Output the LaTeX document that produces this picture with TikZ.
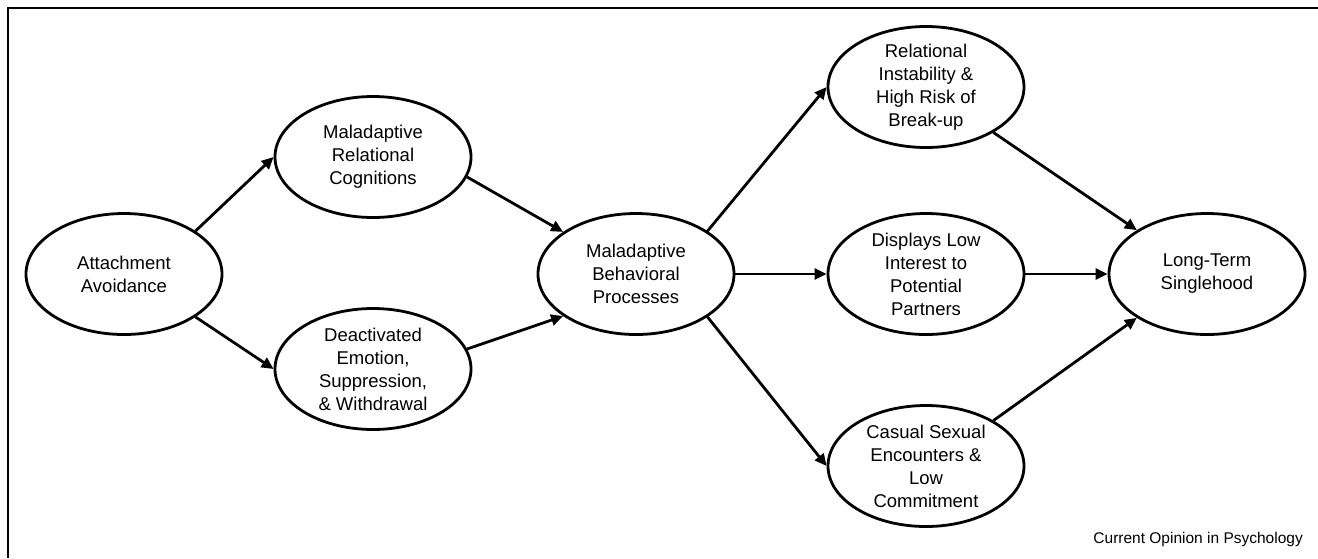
\documentclass[tikz,border=0pt]{standalone}
\usepackage{fontspec}
\setmainfont{Liberation Sans}
\usetikzlibrary{shapes.geometric,arrows.meta}
\begin{document}
\begin{tikzpicture}[x=1pt,y=-1pt,
  ell/.style={ellipse,draw=black,line width=2.8pt,minimum width=196pt,minimum height=121pt,inner sep=0pt},
  txt/.style={align=center,font=\fontsize{18.5}{23}\selectfont,inner sep=0pt},
  arr/.style={line width=2.8pt,-{Triangle[length=12pt,width=11pt]}},
  frame/.style={line width=2pt}]
\useasboundingbox (0,0) rectangle (1318,558);
\coordinate (f1) at (8,558);
\coordinate (f2) at (8,8);
\coordinate (f3) at (1318,8);
\draw[frame] (f1) -- (f2) -- (f3);

\node[ell] (A) at (124,274) {};
\node[txt] (At) at (A) {Attachment\\Avoidance};
\node[ell] (C) at (373,157) {};
\node[txt] (Ct) at (C) {Maladaptive\\Relational\\Cognitions};
\node[ell] (D) at (373,369) {};
\node[txt] (Dt) at (D) {Deactivated\\Emotion,\\Suppression,\\\& Withdrawal};
\node[ell] (B) at (636,274) {};
\node[txt] (Bt) at (B) {Maladaptive\\Behavioral\\Processes};
\node[ell] (R) at (926,87) {};
\node[txt] (Rt) at (R) {Relational\\Instability \&\\High Risk of\\Break-up};
\node[ell] (I) at (926,274) {};
\node[txt] (It) at (I) {Displays Low\\Interest to\\Potential\\Partners};
\node[ell] (S) at (926,466) {};
\node[txt] (St) at (S) {Casual Sexual\\Encounters \&\\Low\\Commitment};
\node[ell] (L) at (1207,274) {};
\node[txt] (Lt) at (L) {Long-Term\\Singlehood};

\draw[arr] (A.31) -- (C.west);
\draw[arr] (A.-31) -- (D.west);
\draw[arr] (C.-12) -- (B.150);
\draw[arr] (D.12) -- (B.210);
\draw[arr] (B.31) -- (R.west);
\draw[arr] (B.east) -- (I.west);
\draw[arr] (B.-31) -- (S.west);
\draw[arr] (R.-34) -- (L.148);
\draw[arr] (I.east) -- (L.west);
\draw[arr] (S.34) -- (L.212);

\node[anchor=base east,font=\fontsize{15.5}{18}\selectfont,inner sep=0pt] (cap) at (1303,543) {Current Opinion in Psychology};
\end{tikzpicture}
\end{document}
